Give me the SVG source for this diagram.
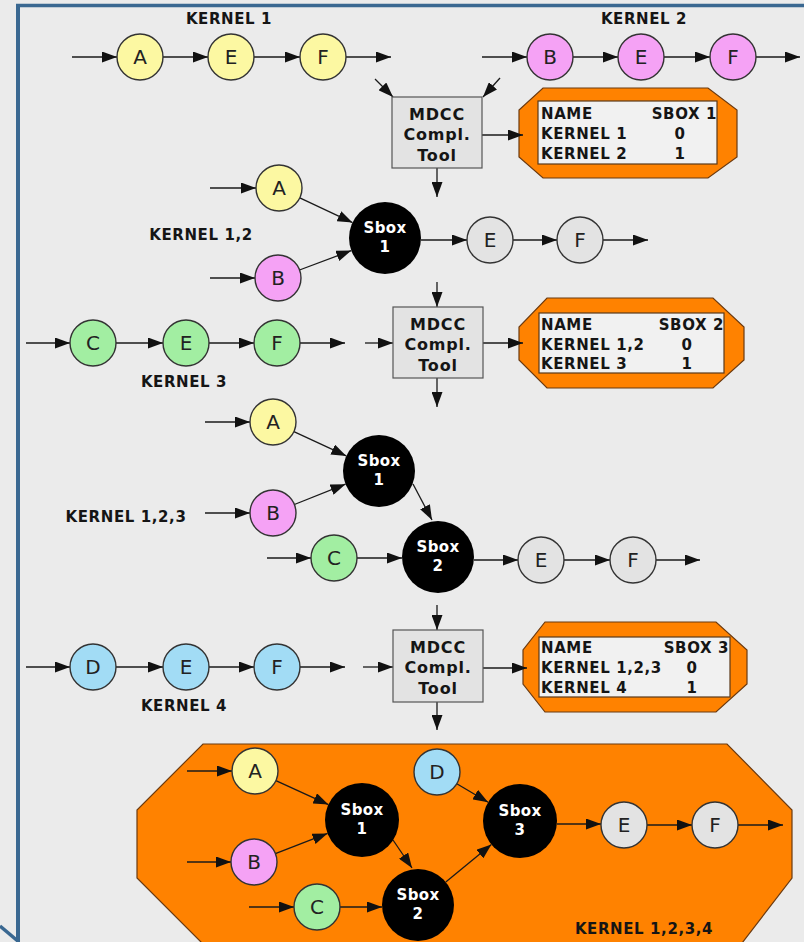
<svg xmlns="http://www.w3.org/2000/svg" width="804" height="942" viewBox="0 0 804 942">
  <defs>
    <marker id="ah" viewBox="0 0 15 11" refX="15" refY="5.5" markerWidth="15" markerHeight="11" orient="auto" markerUnits="userSpaceOnUse">
      <path d="M0,0 L15,5.5 L0,11 Z" fill="#111"/>
    </marker>
    <style>
      .lbl { font-family: "DejaVu Sans", Verdana, sans-serif; font-weight: bold; font-size: 15px; fill: #151515; letter-spacing: 0.6px; }
      .tool { font-family: "DejaVu Sans", Verdana, sans-serif; font-weight: bold; font-size: 16px; fill: #151515; letter-spacing: 0.8px; text-anchor: middle; }
      .sbt { font-family: "DejaVu Sans", Verdana, sans-serif; font-weight: bold; font-size: 15px; fill: #ffffff; letter-spacing: 0.4px; text-anchor: middle; }
      .ltr { font-family: "DejaVu Sans", Verdana, sans-serif; font-size: 20px; fill: #222; text-anchor: middle; }
      .mid { text-anchor: middle; }
      .end { text-anchor: end; }
      .node { stroke: #333; stroke-width: 1.4; }
      .y { fill: #fcf8a2; }
      .p { fill: #f5a2f5; }
      .g { fill: #a2eea2; }
      .b { fill: #a2dcf5; }
      .w { fill: #e3e3e3; }
      .sb { fill: #000; }
      .box { fill: #e3e3e3; stroke: #555; stroke-width: 1.2; }
      .oct { fill: #ff8200; stroke: #6b3a10; stroke-width: 1.2; }
      .tbl { fill: #f1f1f1; stroke: #5a3a1a; stroke-width: 1.2; }
      .c line { stroke: #1a1a1a; stroke-width: 1.3; marker-end: url(#ah); }
      .frame { stroke: #3a6891; fill: none; }
    </style>
  </defs>

  <!-- background and frame -->
  <rect x="0" y="0" width="804" height="942" fill="#ebebeb"/>
  <line class="frame" x1="16" y1="5.5" x2="804" y2="5.5" stroke-width="3.5"/>
  <line class="frame" x1="18" y1="4" x2="18" y2="942" stroke-width="4"/>
  <line class="frame" x1="0" y1="926" x2="19" y2="942" stroke-width="3.5"/>

  <!-- big combined region -->
  <g id="region-k1234">
    <path class="oct" d="M203,744 H727 L792,810 V878 L729,960 H219 L137,878 V810 Z"/>
  </g>

  <!-- lookup tables -->
  <g id="table1">
    <path class="oct" d="M543,88 H708 L737,110 V157 L708,178 H543 L519,157 V110 Z"/>
    <rect class="tbl" x="538" y="101" width="179" height="63"/>
    <text class="lbl" x="541" y="119">NAME</text>
    <text class="lbl end" x="717" y="119">SBOX 1</text>
    <text class="lbl" x="541" y="139">KERNEL 1</text>
    <text class="lbl mid" x="680" y="139">0</text>
    <text class="lbl" x="541" y="159">KERNEL 2</text>
    <text class="lbl mid" x="680" y="159">1</text>
  </g>
  <g id="table2">
    <path class="oct" d="M547,298 H713 L744,327 V360 L713,388 H547 L519,360 V327 Z"/>
    <rect class="tbl" x="539" y="313" width="185" height="60"/>
    <text class="lbl" x="541" y="330">NAME</text>
    <text class="lbl end" x="724" y="330">SBOX 2</text>
    <text class="lbl" x="541" y="350">KERNEL 1,2</text>
    <text class="lbl mid" x="687" y="350">0</text>
    <text class="lbl" x="541" y="369">KERNEL 3</text>
    <text class="lbl mid" x="687" y="369">1</text>
  </g>
  <g id="table3">
    <path class="oct" d="M545,622 H716 L747,650 V684 L716,712 H545 L523,684 V650 Z"/>
    <rect class="tbl" x="539" y="637" width="191" height="60"/>
    <text class="lbl" x="541" y="653">NAME</text>
    <text class="lbl end" x="729" y="653">SBOX 3</text>
    <text class="lbl" x="541" y="673">KERNEL 1,2,3</text>
    <text class="lbl mid" x="692" y="673">0</text>
    <text class="lbl" x="541" y="693">KERNEL 4</text>
    <text class="lbl mid" x="692" y="693">1</text>
  </g>

  <!-- connectors -->
  <g id="connectors" class="c">
    <!-- kernel 1 -->
    <line x1="72" y1="57" x2="117" y2="57"/>
    <line x1="163" y1="57" x2="208" y2="57"/>
    <line x1="254" y1="57" x2="300" y2="57"/>
    <line x1="346" y1="57" x2="391" y2="57"/>
    <!-- kernel 2 -->
    <line x1="482" y1="57" x2="527" y2="57"/>
    <line x1="573" y1="57" x2="618" y2="57"/>
    <line x1="664" y1="57" x2="710" y2="57"/>
    <line x1="756" y1="57" x2="800" y2="57"/>
    <!-- tool 1 -->
    <line x1="375" y1="79" x2="393" y2="97"/>
    <line x1="500" y1="78" x2="483" y2="97"/>
    <line x1="482" y1="135" x2="523" y2="135"/>
    <line x1="437" y1="168" x2="437" y2="197"/>
    <!-- sbox 1 stage -->
    <line x1="210" y1="188" x2="256" y2="188"/>
    <line x1="210" y1="278" x2="255" y2="278"/>
    <line x1="299.8" y1="197.8" x2="352.5" y2="222.6"/>
    <line x1="299.5" y1="270" x2="351.3" y2="250.6"/>
    <line x1="421" y1="240" x2="467" y2="240"/>
    <line x1="513" y1="240" x2="557" y2="240"/>
    <line x1="603" y1="240" x2="648" y2="240"/>
    <!-- kernel 3 and tool 2 -->
    <line x1="26" y1="343" x2="70" y2="343"/>
    <line x1="116" y1="343" x2="163" y2="343"/>
    <line x1="209" y1="343" x2="254" y2="343"/>
    <line x1="300" y1="343" x2="345" y2="343"/>
    <line x1="365" y1="343" x2="393" y2="343"/>
    <line x1="437" y1="282" x2="437" y2="307"/>
    <line x1="483" y1="343" x2="523" y2="343"/>
    <line x1="437" y1="378" x2="437" y2="407"/>
    <!-- sbox 1,2 stage -->
    <line x1="205" y1="422" x2="250" y2="422"/>
    <line x1="205" y1="513" x2="250" y2="513"/>
    <line x1="267" y1="558" x2="311" y2="558"/>
    <line x1="293.9" y1="431.7" x2="346.3" y2="455.9"/>
    <line x1="294.4" y1="504.5" x2="345.5" y2="484.2"/>
    <line x1="413" y1="484" x2="432" y2="520"/>
    <line x1="357" y1="558" x2="402" y2="558"/>
    <line x1="474" y1="560" x2="518" y2="560"/>
    <line x1="564" y1="560" x2="610" y2="560"/>
    <line x1="656" y1="560" x2="700" y2="560"/>
    <!-- kernel 4 and tool 3 -->
    <line x1="26" y1="667" x2="70" y2="667"/>
    <line x1="116" y1="667" x2="163" y2="667"/>
    <line x1="209" y1="667" x2="254" y2="667"/>
    <line x1="300" y1="667" x2="345" y2="667"/>
    <line x1="363" y1="667" x2="393" y2="667"/>
    <line x1="437" y1="605" x2="437" y2="630"/>
    <line x1="483" y1="668" x2="527" y2="668"/>
    <line x1="437" y1="702" x2="437" y2="730"/>
    <!-- combined network -->
    <line x1="187" y1="771" x2="232" y2="771"/>
    <line x1="187" y1="862" x2="231" y2="862"/>
    <line x1="249" y1="907" x2="294" y2="907"/>
    <line x1="275.9" y1="780.6" x2="328.4" y2="804.6"/>
    <line x1="275.4" y1="853.7" x2="327.5" y2="833.4"/>
    <line x1="393" y1="840" x2="412" y2="868"/>
    <line x1="340" y1="907" x2="382" y2="907"/>
    <line x1="456.8" y1="783.7" x2="488.1" y2="802.2"/>
    <line x1="445.8" y1="882.1" x2="491.4" y2="844.5"/>
    <line x1="557" y1="824" x2="601" y2="824"/>
    <line x1="647" y1="825" x2="692" y2="825"/>
    <line x1="738" y1="825" x2="783" y2="825"/>
  </g>

  <!-- kernel labels -->
  <text class="lbl mid" x="229" y="24">KERNEL 1</text>
  <text class="lbl mid" x="644" y="24">KERNEL 2</text>
  <text class="lbl mid" x="201" y="240">KERNEL 1,2</text>
  <text class="lbl mid" x="184" y="387">KERNEL 3</text>
  <text class="lbl mid" x="126" y="522">KERNEL 1,2,3</text>
  <text class="lbl mid" x="184" y="711">KERNEL 4</text>
  <text class="lbl mid" x="644" y="934">KERNEL 1,2,3,4</text>

  <!-- kernel 1 -->
  <g id="k1-a"><circle class="node y" cx="140" cy="57" r="23"/><text class="ltr" x="140" y="64">A</text></g>
  <g id="k1-e"><circle class="node y" cx="231" cy="57" r="23"/><text class="ltr" x="231" y="64">E</text></g>
  <g id="k1-f"><circle class="node y" cx="323" cy="57" r="23"/><text class="ltr" x="323" y="64">F</text></g>

  <!-- kernel 2 -->
  <g id="k2-b"><circle class="node p" cx="550" cy="57" r="23"/><text class="ltr" x="550" y="64">B</text></g>
  <g id="k2-e"><circle class="node p" cx="641" cy="57" r="23"/><text class="ltr" x="641" y="64">E</text></g>
  <g id="k2-f"><circle class="node p" cx="733" cy="57" r="23"/><text class="ltr" x="733" y="64">F</text></g>

  <!-- compiler tool boxes -->
  <g id="tool1">
    <rect class="box" x="392" y="97" width="90" height="71"/>
    <text class="tool" x="437" y="120">MDCC</text>
    <text class="tool" x="437" y="140">Compl.</text>
    <text class="tool" x="437" y="161">Tool</text>
  </g>
  <g id="tool2">
    <rect class="box" x="393" y="307" width="90" height="71"/>
    <text class="tool" x="438" y="330">MDCC</text>
    <text class="tool" x="438" y="350">Compl.</text>
    <text class="tool" x="438" y="371">Tool</text>
  </g>
  <g id="tool3">
    <rect class="box" x="393" y="630" width="90" height="72"/>
    <text class="tool" x="438" y="653">MDCC</text>
    <text class="tool" x="438" y="673">Compl.</text>
    <text class="tool" x="438" y="694">Tool</text>
  </g>

  <!-- sbox 1 stage -->
  <g id="s1-a"><circle class="node y" cx="279" cy="188" r="23"/><text class="ltr" x="279" y="195">A</text></g>
  <g id="s1-b"><circle class="node p" cx="278" cy="278" r="23"/><text class="ltr" x="278" y="285">B</text></g>
  <g id="s1-sbox1"><circle class="sb" cx="385" cy="238" r="36"/><text class="sbt" x="385" y="233">Sbox</text><text class="sbt" x="385" y="252">1</text></g>
  <g id="s1-e"><circle class="node w" cx="490" cy="240" r="23"/><text class="ltr" x="490" y="247">E</text></g>
  <g id="s1-f"><circle class="node w" cx="580" cy="240" r="23"/><text class="ltr" x="580" y="247">F</text></g>

  <!-- kernel 3 -->
  <g id="k3-c"><circle class="node g" cx="93" cy="343" r="23"/><text class="ltr" x="93" y="350">C</text></g>
  <g id="k3-e"><circle class="node g" cx="186" cy="343" r="23"/><text class="ltr" x="186" y="350">E</text></g>
  <g id="k3-f"><circle class="node g" cx="277" cy="343" r="23"/><text class="ltr" x="277" y="350">F</text></g>

  <!-- sbox 1,2 stage -->
  <g id="s2-a"><circle class="node y" cx="273" cy="422" r="23"/><text class="ltr" x="273" y="429">A</text></g>
  <g id="s2-b"><circle class="node p" cx="273" cy="513" r="23"/><text class="ltr" x="273" y="520">B</text></g>
  <g id="s2-c"><circle class="node g" cx="334" cy="558" r="23"/><text class="ltr" x="334" y="565">C</text></g>
  <g id="s2-sbox1"><circle class="sb" cx="379" cy="471" r="36"/><text class="sbt" x="379" y="466">Sbox</text><text class="sbt" x="379" y="485">1</text></g>
  <g id="s2-sbox2"><circle class="sb" cx="438" cy="557" r="36"/><text class="sbt" x="438" y="552">Sbox</text><text class="sbt" x="438" y="571">2</text></g>
  <g id="s2-e"><circle class="node w" cx="541" cy="560" r="23"/><text class="ltr" x="541" y="567">E</text></g>
  <g id="s2-f"><circle class="node w" cx="633" cy="560" r="23"/><text class="ltr" x="633" y="567">F</text></g>

  <!-- kernel 4 -->
  <g id="k4-d"><circle class="node b" cx="93" cy="667" r="23"/><text class="ltr" x="93" y="674">D</text></g>
  <g id="k4-e"><circle class="node b" cx="186" cy="667" r="23"/><text class="ltr" x="186" y="674">E</text></g>
  <g id="k4-f"><circle class="node b" cx="277" cy="667" r="23"/><text class="ltr" x="277" y="674">F</text></g>

  <!-- combined network -->
  <g id="s3-a"><circle class="node y" cx="255" cy="771" r="23"/><text class="ltr" x="255" y="778">A</text></g>
  <g id="s3-b"><circle class="node p" cx="254" cy="862" r="23"/><text class="ltr" x="254" y="869">B</text></g>
  <g id="s3-c"><circle class="node g" cx="317" cy="907" r="23"/><text class="ltr" x="317" y="914">C</text></g>
  <g id="s3-d"><circle class="node b" cx="437" cy="772" r="23"/><text class="ltr" x="437" y="779">D</text></g>
  <g id="s3-sbox1"><circle class="sb" cx="362" cy="820" r="37"/><text class="sbt" x="362" y="815">Sbox</text><text class="sbt" x="362" y="834">1</text></g>
  <g id="s3-sbox2"><circle class="sb" cx="418" cy="905" r="36"/><text class="sbt" x="418" y="900">Sbox</text><text class="sbt" x="418" y="919">2</text></g>
  <g id="s3-sbox3"><circle class="sb" cx="520" cy="821" r="37"/><text class="sbt" x="520" y="816">Sbox</text><text class="sbt" x="520" y="835">3</text></g>
  <g id="s3-e"><circle class="node w" cx="624" cy="825" r="23"/><text class="ltr" x="624" y="832">E</text></g>
  <g id="s3-f"><circle class="node w" cx="715" cy="825" r="23"/><text class="ltr" x="715" y="832">F</text></g>
</svg>
